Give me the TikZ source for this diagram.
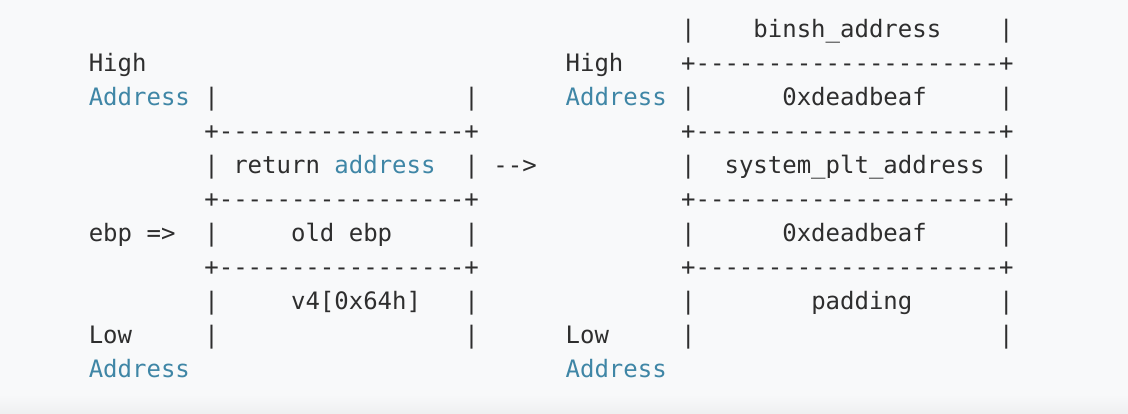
\documentclass[tikz,border=0pt]{standalone}
\usepackage{fontspec}
\setmonofont{DejaVu Sans Mono}
\definecolor{codegray}{HTML}{2E2E2E}
\definecolor{addrblue}{HTML}{3F86A6}
\definecolor{bgcolor}{HTML}{F8F9FA}
\definecolor{bgdark}{HTML}{EEEFF1}
\tikzstyle{code} = [inner sep=0pt, anchor=base west, text=codegray,
		font=\ttfamily\fontsize{18pt}{25.5pt}\selectfont]
\tikzstyle{addr} = [code, text=addrblue]

\begin{document}
\begin{tikzpicture}[x=10.8375pt, y=-25.5pt]
		%background
		\fill[bgcolor] (-6.125,-1.109) rectangle (71.94,11.068);
		\shade[top color=bgcolor, bottom color=bgdark] (-6.125,10.5) rectangle (71.94,11.068);
		\useasboundingbox (-6.125,-1.109) rectangle (71.94,11.068);
		
		%left stack
		\node [code] (lab1) at (0,1) {High};
		\node [addr] (lab2) at (0,2) {Address};
		\node [code] (L2_a) at (8,2) {|};
		\node [code] (L2_b) at (26,2) {|};
		\node [code] (L3) at (8,3) {+-----------------+};
		\node [code] (L4_a) at (8,4) {|};
		\node [code] (L4_t) at (10,4) {return \textcolor{addrblue}{address}};
		\node [code] (L4_b) at (26,4) {|};
		\node [code] (arrow) at (28,4) {-->};
		\node [code] (L5) at (8,5) {+-----------------+};
		\node [code] (lab3) at (0,6) {ebp =>};
		\node [code] (L6_a) at (8,6) {|};
		\node [code] (L6_t) at (14,6) {old ebp};
		\node [code] (L6_b) at (26,6) {|};
		\node [code] (L7) at (8,7) {+-----------------+};
		\node [code] (L8_a) at (8,8) {|};
		\node [code] (L8_t) at (14,8) {v4[0x64h]};
		\node [code] (L8_b) at (26,8) {|};
		\node [code] (lab4) at (0,9) {Low};
		\node [code] (L9_a) at (8,9) {|};
		\node [code] (L9_b) at (26,9) {|};
		\node [addr] (lab5) at (0,10) {Address};
		
		%right stack
		\node [code] (R0_a) at (41,0) {|};
		\node [code] (R0_t) at (46,0) {binsh\_address};
		\node [code] (R0_b) at (63,0) {|};
		\node [code] (lab6) at (33,1) {High};
		\node [code] (R1) at (41,1) {+---------------------+};
		\node [addr] (lab7) at (33,2) {Address};
		\node [code] (R2_a) at (41,2) {|};
		\node [code] (R2_t) at (48,2) {0xdeadbeaf};
		\node [code] (R2_b) at (63,2) {|};
		\node [code] (R3) at (41,3) {+---------------------+};
		\node [code] (R4_a) at (41,4) {|};
		\node [code] (R4_t) at (44,4) {system\_plt\_address};
		\node [code] (R4_b) at (63,4) {|};
		\node [code] (R5) at (41,5) {+---------------------+};
		\node [code] (R6_a) at (41,6) {|};
		\node [code] (R6_t) at (48,6) {0xdeadbeaf};
		\node [code] (R6_b) at (63,6) {|};
		\node [code] (R7) at (41,7) {+---------------------+};
		\node [code] (R8_a) at (41,8) {|};
		\node [code] (R8_t) at (50,8) {padding};
		\node [code] (R8_b) at (63,8) {|};
		\node [code] (lab8) at (33,9) {Low};
		\node [code] (R9_a) at (41,9) {|};
		\node [code] (R9_b) at (63,9) {|};
		\node [addr] (lab9) at (33,10) {Address};
		
\end{tikzpicture}
\end{document}
